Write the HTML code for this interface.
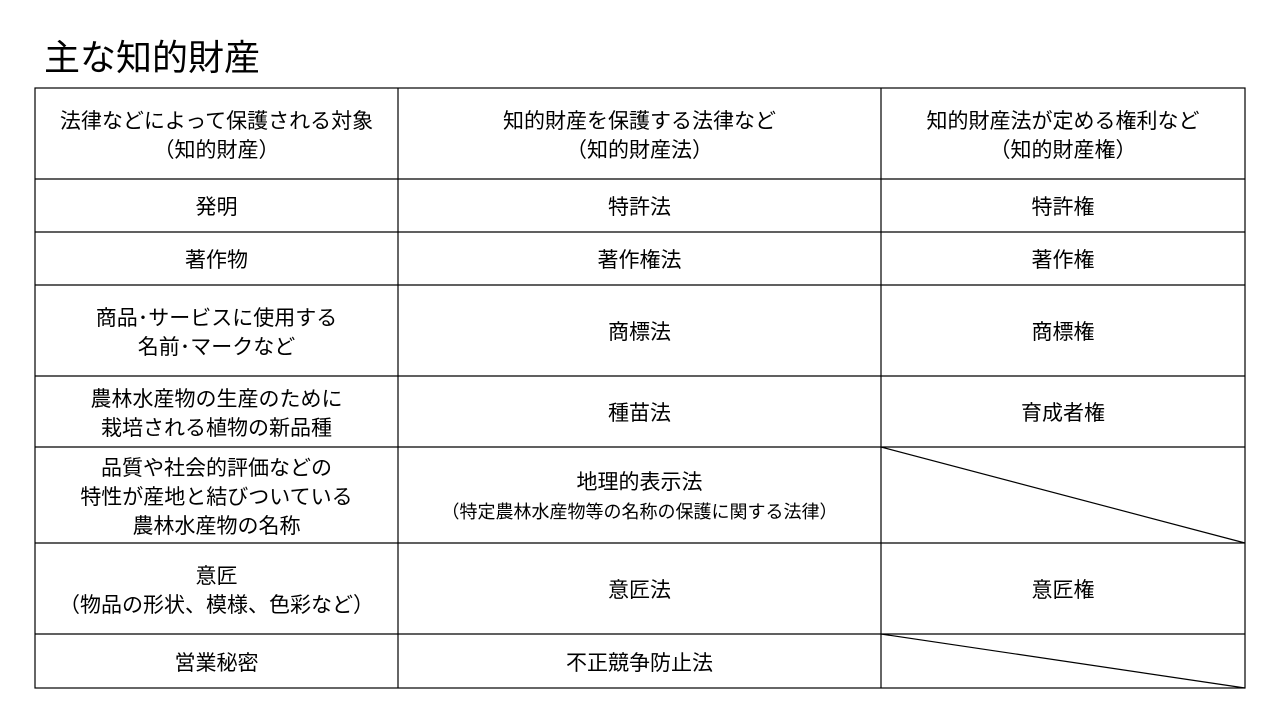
<!DOCTYPE html>
<html><head><meta charset="utf-8"><style>
body{margin:0;width:1280px;height:720px;background:#fff;position:relative;overflow:hidden;font-family:"Liberation Sans","Noto Sans CJK JP",sans-serif;color:#000}
.t{position:absolute;left:44px;top:36px;font-size:36px;line-height:44px}
.c{position:absolute;display:flex;align-items:center;justify-content:center;text-align:center;font-size:21px;line-height:29px;padding-top:4px;box-sizing:border-box}
.s{font-size:18px;line-height:24px}
</style></head><body>
<div class="t">主な知的財産</div>
<svg width="1280" height="720" style="position:absolute;left:0;top:0">
<g stroke="#000" stroke-width="1.2" fill="none">
<rect x="35" y="88" width="1210" height="600"/>
<line x1="398" y1="88" x2="398" y2="688"/>
<line x1="881" y1="88" x2="881" y2="688"/>
<line x1="35" y1="179" x2="1245" y2="179"/>
<line x1="35" y1="232" x2="1245" y2="232"/>
<line x1="35" y1="285" x2="1245" y2="285"/>
<line x1="35" y1="376" x2="1245" y2="376"/>
<line x1="35" y1="447" x2="1245" y2="447"/>
<line x1="35" y1="543" x2="1245" y2="543"/>
<line x1="35" y1="634" x2="1245" y2="634"/>
<line x1="881" y1="447" x2="1245" y2="543"/>
<line x1="881" y1="634" x2="1245" y2="688"/>
</g></svg>
<div class="c" style="left:35px;top:88px;width:363px;height:91px">法律などによって保護される対象<br>（知的財産）</div>
<div class="c" style="left:398px;top:88px;width:483px;height:91px">知的財産を保護する法律など<br>（知的財産法）</div>
<div class="c" style="left:881px;top:88px;width:364px;height:91px">知的財産法が定める権利など<br>（知的財産権）</div>
<div class="c" style="left:35px;top:179px;width:363px;height:53px">発明</div>
<div class="c" style="left:398px;top:179px;width:483px;height:53px">特許法</div>
<div class="c" style="left:881px;top:179px;width:364px;height:53px">特許権</div>
<div class="c" style="left:35px;top:232px;width:363px;height:53px">著作物</div>
<div class="c" style="left:398px;top:232px;width:483px;height:53px">著作権法</div>
<div class="c" style="left:881px;top:232px;width:364px;height:53px">著作権</div>
<div class="c" style="left:35px;top:285px;width:363px;height:91px">商品･サービスに使用する<br>名前･マークなど</div>
<div class="c" style="left:398px;top:285px;width:483px;height:91px">商標法</div>
<div class="c" style="left:881px;top:285px;width:364px;height:91px">商標権</div>
<div class="c" style="left:35px;top:376px;width:363px;height:71px">農林水産物の生産のために<br>栽培される植物の新品種</div>
<div class="c" style="left:398px;top:376px;width:483px;height:71px">種苗法</div>
<div class="c" style="left:881px;top:376px;width:364px;height:71px">育成者権</div>
<div class="c" style="left:35px;top:447px;width:363px;height:96px">品質や社会的評価などの<br>特性が産地と結びついている<br>農林水産物の名称</div>
<div class="c" style="left:398px;top:447px;width:483px;height:96px"><div>地理的表示法<br><span class="s">（特定農林水産物等の名称の保護に関する法律）</span></div></div>
<div class="c" style="left:35px;top:543px;width:363px;height:91px">意匠<br>（物品の形状、模様、色彩など）</div>
<div class="c" style="left:398px;top:543px;width:483px;height:91px">意匠法</div>
<div class="c" style="left:881px;top:543px;width:364px;height:91px">意匠権</div>
<div class="c" style="left:35px;top:634px;width:363px;height:54px">営業秘密</div>
<div class="c" style="left:398px;top:634px;width:483px;height:54px">不正競争防止法</div>
</body></html>
